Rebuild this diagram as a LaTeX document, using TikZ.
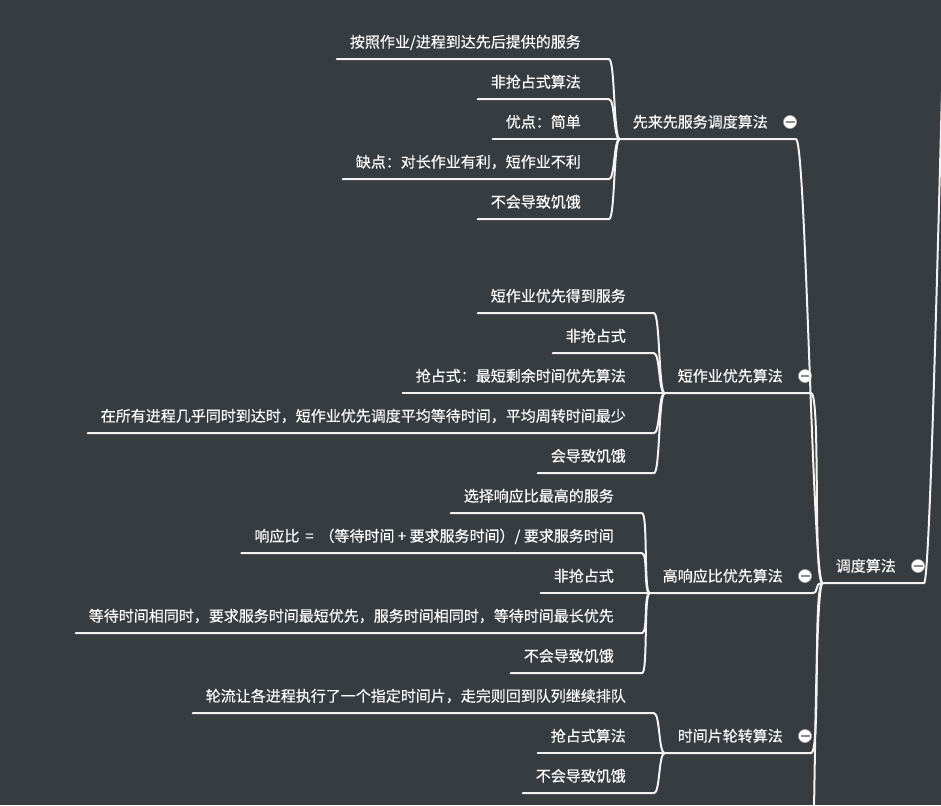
\documentclass[tikz,border=0pt]{standalone}
\usepackage{fontspec}
\newfontfamily\cjk[FakeBold=0.3]{Noto Sans CJK SC}
\definecolor{board}{HTML}{373C40}
\definecolor{wire}{HTML}{F2F2F2}
\tikzset{
  topic/.style={text=white, font=\cjk\fontsize{15}{15}\selectfont, inner xsep=13pt, inner ysep=0pt, text height=13pt, text depth=2pt, minimum height=34pt, anchor=east},
  branch/.style={draw=wire, line width=2pt, line cap=round},
  fold/.style={circle, fill=white, draw=gray!60, line width=0.6pt, inner sep=0pt, minimum size=13pt,
    path picture={\draw [line width=2pt, gray!90] ([xshift=-4.5pt]path picture bounding box.center) -- ([xshift=4.5pt]path picture bounding box.center);}},
}
\begin{document}
\begin{tikzpicture}[x=1pt, y=-1pt]
\useasboundingbox (0, 0) rectangle (941, 805);
\clip (0, 0) rectangle (941, 805);
\fill [board] (0, 0) rectangle (941, 805);

\node (root) at (909, 566) [topic] {调度算法};
\node (fold0) at (918, 566) [fold] {};
\coordinate (up) at (960, -400);
\coordinate (down) at (806, 1000);

\node (fcfs) at (781, 122) [topic] {先来先服务调度算法};
\node (fold1) at (790, 122) [fold] {};
\node (f1) at (594, 42) [topic] {按照作业/进程到达先后提供的服务};
\node (f2) at (594, 82) [topic] {非抢占式算法};
\node (f3) at (594, 122) [topic] {优点：简单};
\node (f4) at (594, 162) [topic] {缺点：对长作业有利，短作业不利};
\node (f5) at (594, 202) [topic] {不会导致饥饿};

\node (sjf) at (796, 376) [topic] {短作业优先算法};
\node (fold2) at (805, 376) [fold] {};
\node (s1) at (639, 296) [topic] {短作业优先得到服务};
\node (s2) at (639, 336) [topic] {非抢占式};
\node (s3) at (639, 376) [topic] {抢占式：最短剩余时间优先算法};
\node (s4) at (639, 416) [topic] {在所有进程几乎同时到达时，短作业优先调度平均等待时间，平均周转时间最少};
\node (s5) at (639, 456) [topic] {会导致饥饿};

\node (hrrn) at (796, 576) [topic] {高响应比优先算法};
\node (fold3) at (805, 576) [fold] {};
\node (h1) at (627, 496) [topic] {选择响应比最高的服务};
\node (h2) at (627, 536) [topic] {响应比 \,=\, （等待时间 + 要求服务时间）/ 要求服务时间};
\node (h3) at (627, 576) [topic] {非抢占式};
\node (h4) at (627, 616) [topic] {等待时间相同时，要求服务时间最短优先，服务时间相同时，等待时间最长优先};
\node (h5) at (627, 656) [topic] {不会导致饥饿};

\node (rr) at (796, 736) [topic] {时间片轮转算法};
\node (fold4) at (805, 736) [fold] {};
\node (r1) at (639, 696) [topic] {轮流让各进程执行了一个指定时间片，走完则回到队列继续排队};
\node (r2) at (639, 736) [topic] {抢占式算法};
\node (r3) at (639, 776) [topic] {不会导致饥饿};

\begin{scope}[on background layer/.try]
\draw [branch] (root.south west) -- ([xshift=15pt]root.south east) .. controls +(10, 0) and +(-10, 0) .. (up);
\draw [branch] (down) .. controls +(10, 0) and +(-10, 0) .. (root.south west);
\foreach \b in {fcfs, sjf, hrrn, rr}
  \draw [branch] (\b.south west) -- ([xshift=15pt]\b.south east) .. controls +(10, 0) and +(-10, 0) .. (root.south west);
\foreach \n in {f1, f2, f3, f4, f5}
  \draw [branch] (\n.south west) -- ([xshift=15pt]\n.south east) .. controls +(6, 0) and +(-6, 0) .. (fcfs.south west);
\foreach \n in {s1, s2, s3, s4, s5}
  \draw [branch] (\n.south west) -- ([xshift=15pt]\n.south east) .. controls +(6, 0) and +(-6, 0) .. (sjf.south west);
\foreach \n in {h1, h2, h3, h4, h5}
  \draw [branch] (\n.south west) -- ([xshift=15pt]\n.south east) .. controls +(6, 0) and +(-6, 0) .. (hrrn.south west);
\foreach \n in {r1, r2, r3}
  \draw [branch] (\n.south west) -- ([xshift=15pt]\n.south east) .. controls +(6, 0) and +(-6, 0) .. (rr.south west);
\end{scope}
\end{tikzpicture}
\end{document}
